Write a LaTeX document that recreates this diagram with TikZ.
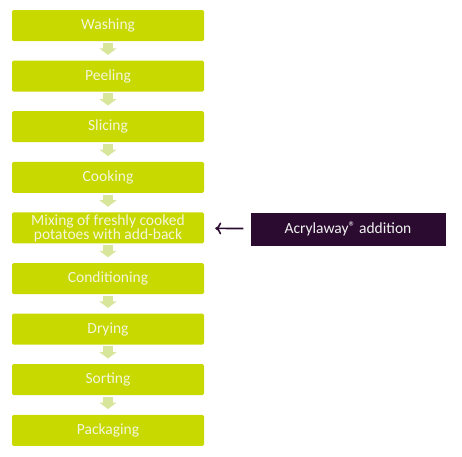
\documentclass[tikz,border=0pt]{standalone}
\usepackage{fontspec}
\setmainfont{Carlito}
\usetikzlibrary{positioning,arrows.meta}
\definecolor{stepgreen}{HTML}{C8D900}
\definecolor{arrowgreen}{HTML}{D8E69C}
\definecolor{addpurple}{HTML}{2B0B30}
\definecolor{steptext}{HTML}{F4F6DC}

\begin{document}
\begin{tikzpicture}[x=1pt,y=1pt,node distance=50.6pt,on grid,
		stepbox/.style={fill=stepgreen,rounded corners=1.5pt,minimum width=192pt,minimum height=31pt,
			text=steptext,font=\fontsize{15.5}{14}\selectfont,align=center,inner sep=0pt},
		addbox/.style={fill=addpurple,minimum width=195pt,minimum height=33pt,
			text=white!90!gray,font=\fontsize{15.5}{16}\selectfont,inner sep=0pt},
		downarr/.style={draw=arrowgreen,line width=10pt,shorten <=1.5pt,shorten >=5.5pt,
			-{Triangle[length=6.5pt,width=17pt]}}]
	\useasboundingbox (0,0) rectangle (462,-456);
	\node[stepbox](wash) at (108,-25.5) {Washing};
	\node[stepbox](peel)[below=of wash] {Peeling};
	\node[stepbox](slice)[below=of peel] {Slicing};
	\node[stepbox](cook)[below=of slice] {Cooking};
	\node[stepbox](mix)[below=of cook] {Mixing of freshly cooked\\potatoes with add-back};
	\node[stepbox](cond)[below=of mix] {Conditioning};
	\node[stepbox](dry)[below=of cond] {Drying};
	\node[stepbox](sort)[below=of dry] {Sorting};
	\node[stepbox](pack)[below=of sort] {Packaging};
	\node[addbox](acry) at (348,-229) {Acrylaway\raisebox{2.5pt}{\fontsize{14}{14}\selectfont ®} addition};
	\draw[downarr] (wash) -- (peel);
	\draw[downarr] (peel) -- (slice);
	\draw[downarr] (slice) -- (cook);
	\draw[downarr] (cook) -- (mix);
	\draw[downarr] (mix) -- (cond);
	\draw[downarr] (cond) -- (dry);
	\draw[downarr] (dry) -- (sort);
	\draw[downarr] (sort) -- (pack);
	\draw[-{To[length=6pt,width=12pt]},line width=1.6pt,addpurple,shorten >=11pt,shorten <=7pt]
	(acry) -- (mix);
\end{tikzpicture}
\end{document}
